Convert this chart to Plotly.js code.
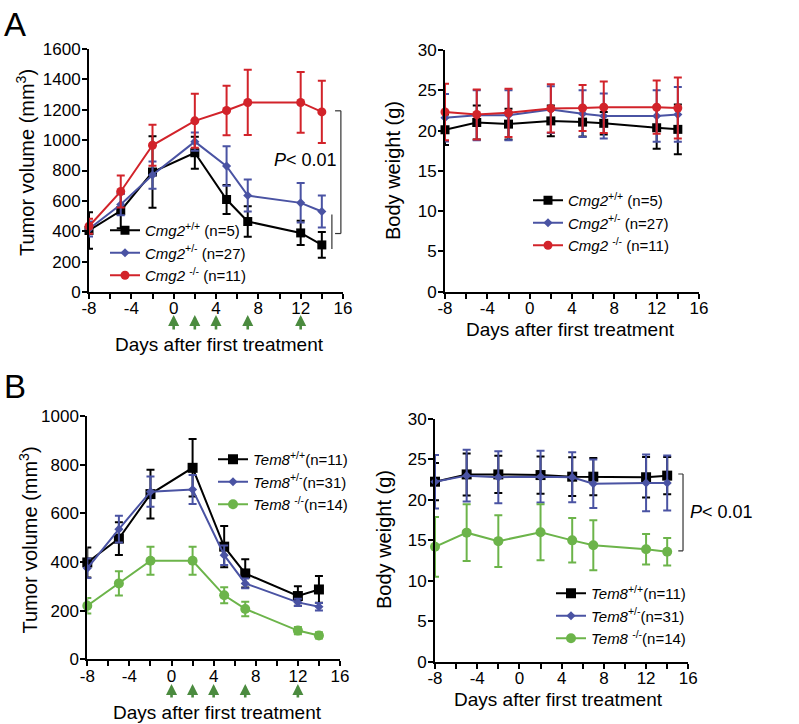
<!DOCTYPE html>
<html>
<head>
<meta charset="utf-8">
<script src="https://cdn.plot.ly/plotly-3.0.1.min.js"></script>
<style>html,body{margin:0;padding:0;background:#fff;}#chart{width:799px;height:724px;}</style>
</head>
<body>
<div id="chart"></div>
<script>
// ---------- data ----------
const days = [-8, -5, -2, 2, 5, 7, 12, 14];
const treatmentDays = [0, 2, 4, 7, 12];
const xTickVals = [-8, -6, -4, -2, 0, 2, 4, 6, 8, 10, 12, 14, 16];
const xTickText = ['-8', '', '-4', '', '0', '', '4', '', '8', '', '12', '', '16'];

// Panel A - tumor volume (mm3)
const cmg2WT_tumor = [405, 535, 790, 917, 609, 464, 389, 310];
const cmg2WT_tumorErr = [120, 115, 235, 105, 95, 100, 80, 85];
const cmg2Het_tumor = [415, 576, 770, 990, 829, 635, 587, 530];
const cmg2Het_tumorErr = [50, 70, 90, 60, 130, 105, 130, 105];
const cmg2KO_tumor = [433, 662, 966, 1127, 1195, 1248, 1248, 1186];
const cmg2KO_tumorErr = [50, 105, 135, 178, 163, 215, 200, 205];

// Panel A - body weight (g)
const cmg2WT_weight = [20.1, 21.0, 20.8, 21.2, 21.05, 20.9, 20.35, 20.15];
const cmg2WT_weightErr = [1.9, 2.1, 1.9, 1.9, 1.8, 1.4, 2.6, 3.1];
const cmg2Het_weight = [21.6, 21.9, 21.9, 22.6, 22.1, 21.8, 21.8, 22.0];
const cmg2Het_weightErr = [2.95, 3.1, 3.1, 2.9, 2.9, 2.8, 3.2, 3.4];
const cmg2KO_weight = [22.3, 22.0, 22.2, 22.75, 22.8, 22.9, 22.9, 22.8];
const cmg2KO_weightErr = [3.5, 3.1, 3.0, 3.0, 2.85, 3.2, 3.3, 3.8];

// Panel B - tumor volume (mm3)
const tem8WT_tumor = [398, 496, 679, 787, 463, 353, 260, 287];
const tem8WT_tumorErr = [62, 67, 100, 118, 85, 58, 40, 55];
const tem8Het_tumor = [374, 535, 689, 698, 428, 312, 234, 216];
const tem8Het_tumorErr = [40, 55, 62, 60, 40, 20, 15, 15];
const tem8KO_tumor = [220, 312, 405, 405, 263, 207, 118, 98];
const tem8KO_tumorErr = [32, 50, 58, 58, 33, 30, 15, 13];

// Panel B - body weight (g)
const tem8WT_weight = [22.25, 23.15, 23.15, 23.07, 22.87, 22.87, 22.8, 23.0];
const tem8WT_weightErr = [2.3, 2.6, 2.3, 2.3, 2.4, 2.3, 2.5, 2.3];
const tem8Het_weight = [22.25, 23.0, 22.8, 22.87, 22.8, 22.0, 22.1, 22.1];
const tem8Het_weightErr = [3.3, 3.2, 3.2, 3.2, 3.1, 3.0, 3.5, 3.4];
const tem8KO_weight = [14.2, 15.95, 14.9, 16.0, 15.0, 14.4, 13.9, 13.6];
const tem8KO_weightErr = [3.7, 3.5, 3.2, 3.45, 2.75, 3.1, 1.9, 1.7];

const cmg2Names = ['<i>Cmg2</i><sup>+/+</sup> (n=5)', '<i>Cmg2</i><sup>+/-</sup> (n=27)', '<i>Cmg2</i> <sup>-/-</sup> (n=11)'];
const tem8Names = ['<i>Tem8</i><sup>+/+</sup>(n=11)', '<i>Tem8</i><sup>+/-</sup>(n=31)', '<i>Tem8</i> <sup>-/-</sup>(n=14)'];
const xTitle = 'Days after first treatment';
const tumorTitle = 'Tumor volume (mm<sup>3</sup>)';
const weightTitle = 'Body weight (g)';

// ---------- styles ----------
const BLACK = '#000000', BLUE = '#4a53a3', RED = '#d2232a', GREEN = '#6cb44a', ARROW = '#4b8b3f';
const FONT = 'Liberation Sans, Arial, Helvetica, sans-serif';

function series(x, y, err, name, color, symbol, size, xa, ya, legend) {
  return {
    type: 'scatter', mode: 'lines+markers', x: x, y: y, name: name,
    xaxis: xa, yaxis: ya, legend: legend, cliponaxis: false,
    line: {color: color, width: 2},
    marker: {color: color, symbol: symbol, size: size},
    error_y: {type: 'data', array: err, visible: true, color: color, thickness: 2, width: 4}
  };
}

const traces = [
  series(days, cmg2WT_tumor, cmg2WT_tumorErr, cmg2Names[0], BLACK, 'square', 9, 'x', 'y', 'legend'),
  series(days, cmg2Het_tumor, cmg2Het_tumorErr, cmg2Names[1], BLUE, 'diamond', 7, 'x', 'y', 'legend'),
  series(days, cmg2KO_tumor, cmg2KO_tumorErr, cmg2Names[2], RED, 'circle', 9, 'x', 'y', 'legend'),
  series(days, cmg2WT_weight, cmg2WT_weightErr, cmg2Names[0], BLACK, 'square', 9, 'x2', 'y2', 'legend2'),
  series(days, cmg2Het_weight, cmg2Het_weightErr, cmg2Names[1], BLUE, 'diamond', 7, 'x2', 'y2', 'legend2'),
  series(days, cmg2KO_weight, cmg2KO_weightErr, cmg2Names[2], RED, 'circle', 9, 'x2', 'y2', 'legend2'),
  series(days, tem8WT_tumor, tem8WT_tumorErr, tem8Names[0], BLACK, 'square', 10, 'x3', 'y3', 'legend3'),
  series(days, tem8Het_tumor, tem8Het_tumorErr, tem8Names[1], BLUE, 'diamond', 7, 'x3', 'y3', 'legend3'),
  series(days, tem8KO_tumor, tem8KO_tumorErr, tem8Names[2], GREEN, 'circle', 10, 'x3', 'y3', 'legend3'),
  series(days, tem8WT_weight, tem8WT_weightErr, tem8Names[0], BLACK, 'square', 10, 'x4', 'y4', 'legend4'),
  series(days, tem8Het_weight, tem8Het_weightErr, tem8Names[1], BLUE, 'diamond', 7, 'x4', 'y4', 'legend4'),
  series(days, tem8KO_weight, tem8KO_weightErr, tem8Names[2], GREEN, 'circle', 10, 'x4', 'y4', 'legend4')
];

const W = 799, H = 724;
const px = v => v / W;
const py = v => 1 - v / H;

function xAxis(d0, d1, anchor) {
  return {
    domain: [px(d0), px(d1)], anchor: anchor, range: [-8, 16],
    tickmode: 'array', tickvals: xTickVals, ticktext: xTickText,
    showline: true, linewidth: 2, linecolor: '#000', ticks: 'outside', ticklen: 5, tickwidth: 2, tickcolor: '#000',
    ticklabelstandoff: -5,
    showgrid: false, zeroline: false, tickfont: {size: 17, color: '#000', family: FONT},
    automargin: false
  };
}
function yAxis(top, bottom, anchor, max, dtick) {
  return {
    domain: [py(bottom), py(top)], anchor: anchor, range: [0, max], dtick: dtick, tick0: 0,
    showline: true, linewidth: 2, linecolor: '#000', ticks: 'outside', ticklen: 5, tickwidth: 2, tickcolor: '#000',
    ticklabelstandoff: -2,
    showgrid: false, zeroline: false, tickfont: {size: 17, color: '#000', family: FONT},
    automargin: false
  };
}

function legendAt(x, y) {
  return {x: px(x), y: py(y), xanchor: 'left', yanchor: 'top', xref: 'paper', yref: 'paper',
    bgcolor: 'rgba(0,0,0,0)', borderwidth: 0, font: {size: 15, color: '#000', family: FONT},
    traceorder: 'normal', itemwidth: 30, tracegroupgap: 0};
}

const annotations = [];
function arrows(xref, tipY, len) {
  treatmentDays.forEach(d => annotations.push({
    x: d, y: py(tipY), xref: xref, yref: 'paper', text: '', showarrow: true,
    ax: 0, ay: len, arrowhead: 2, arrowsize: 0.85, arrowwidth: 2.6, arrowcolor: ARROW
  }));
}
arrows('x', 315, 16);
arrows('x3', 684, 15);

function textAt(x, y, text, size, angle) {
  annotations.push({x: px(x), y: py(y), xref: 'paper', yref: 'paper', xanchor: 'center', yanchor: 'middle',
    text: text, textangle: angle || 0, showarrow: false, font: {size: size, color: '#000', family: FONT}});
}
// axis titles
textAt(219, 344, xTitle, 19);
textAt(570, 329, xTitle, 19);
textAt(217.6, 712, xTitle, 19);
textAt(558, 699, xTitle, 19);
textAt(25, 163, tumorTitle, 20, -90);
textAt(393, 171, weightTitle, 20, -90);
textAt(27.5, 540, tumorTitle, 20, -90);
textAt(384, 540, weightTitle, 20, -90);

annotations.push({x: 12.5, y: 867, xref: 'x', yref: 'y', text: '<i>P</i>< 0.01', showarrow: false,
  font: {size: 18, color: '#000', family: FONT}});
annotations.push({x: 16.0, y: 18.5, xref: 'x4', yref: 'y4', xanchor: 'left', text: '<i>P</i>< 0.01', showarrow: false,
  font: {size: 18, color: '#000', family: FONT}});
annotations.push({x: px(2), y: py(4), xref: 'paper', yref: 'paper', xanchor: 'left', yanchor: 'top', text: 'A',
  showarrow: false, font: {size: 33, color: '#000', family: FONT}});
annotations.push({x: px(2), y: py(366), xref: 'paper', yref: 'paper', xanchor: 'left', yanchor: 'top', text: 'B',
  showarrow: false, font: {size: 33, color: '#000', family: FONT}});

const bracketLine = {color: '#333', width: 1.2};
const shapes = [
  {type: 'line', xref: 'x', yref: 'y', x0: 15.8, x1: 15.8, y0: 1193, y1: 385, line: bracketLine},
  {type: 'line', xref: 'x', yref: 'y', x0: 15.25, x1: 15.8, y0: 1193, y1: 1193, line: bracketLine},
  {type: 'line', xref: 'x', yref: 'y', x0: 15.25, x1: 15.8, y0: 385, y1: 385, line: bracketLine},
  {type: 'line', xref: 'x', yref: 'y', x0: 14.95, x1: 14.95, y0: 510, y1: 283, line: bracketLine},
  {type: 'line', xref: 'x4', yref: 'y4', x0: 15.5, x1: 15.5, y0: 23.2, y1: 13.7, line: bracketLine},
  {type: 'line', xref: 'x4', yref: 'y4', x0: 15.05, x1: 15.5, y0: 23.2, y1: 23.2, line: bracketLine},
  {type: 'line', xref: 'x4', yref: 'y4', x0: 15.05, x1: 15.5, y0: 13.7, y1: 13.7, line: bracketLine}
];

const layout = {
  width: W, height: H, margin: {l: 0, r: 0, t: 0, b: 0},
  paper_bgcolor: '#fff', plot_bgcolor: 'rgba(0,0,0,0)',
  font: {family: FONT, color: '#000'},
  showlegend: true,
  xaxis: xAxis(89, 343, 'y'),
  yaxis: yAxis(49, 292, 'x', 1600, 200),
  xaxis2: xAxis(445, 699, 'y2'),
  yaxis2: yAxis(50, 291.7, 'x2', 30, 5),
  xaxis3: xAxis(87.3, 340, 'y3'),
  yaxis3: yAxis(416, 659.3, 'x3', 1000, 200),
  xaxis4: xAxis(435, 688.3, 'y4'),
  yaxis4: yAxis(419, 661.7, 'x4', 30, 5),
  legend: legendAt(105, 214),
  legend2: legendAt(528, 184),
  legend3: legendAt(213, 443),
  legend4: legendAt(551, 577),
  annotations: annotations,
  shapes: shapes
};

Plotly.newPlot('chart', traces, layout, {staticPlot: true, displayModeBar: false});
</script>
</body>
</html>
